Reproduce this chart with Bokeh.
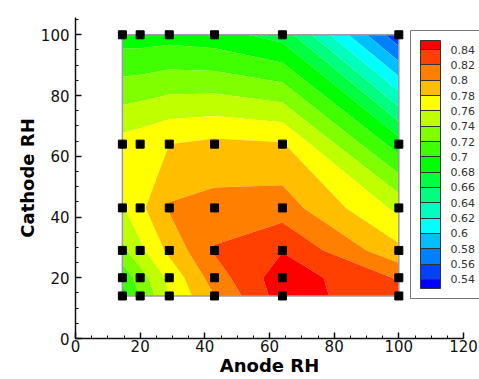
import numpy as np
from bokeh.plotting import figure
from bokeh.models import (Range1d, SingleIntervalTicker, ColorBar, LinearColorMapper,
                          FixedTicker, CustomJSTickFormatter)
from bokeh.embed import file_html
from bokeh.resources import INLINE

# ---- data ----
anode_rh = [14.5, 20, 29, 43, 64, 100]
cathode_rh = [14, 20, 29, 43, 64, 100]

# rows: cathode RH (ascending), columns: anode RH (ascending)
z_c14 = [0.690, 0.720, 0.760, 0.800, 0.850, 0.825]
z_c20 = [0.705, 0.730, 0.765, 0.810, 0.852, 0.818]
z_c29 = [0.735, 0.755, 0.785, 0.822, 0.839, 0.785]
z_c43 = [0.758, 0.775, 0.802, 0.807, 0.810, 0.755]
z_c64 = [0.768, 0.772, 0.780, 0.785, 0.782, 0.690]
z_c100 = [0.690, 0.690, 0.692, 0.688, 0.672, 0.545]

contour_levels = [0.54, 0.56, 0.58, 0.60, 0.62, 0.64, 0.66, 0.68,
                  0.70, 0.72, 0.74, 0.76, 0.78, 0.80, 0.82, 0.84]

band_colors = ["#0000ff", "#0040ff", "#0080ff", "#00bfff", "#00ffff", "#00ffbf",
               "#00ff80", "#00ff40", "#00ff00", "#40ff00", "#80ff00", "#bfff00",
               "#ffff00", "#ffbf00", "#ff8000", "#ff4000", "#ff0000"]

FONT = "DejaVu Sans"

Z = np.array([z_c14, z_c20, z_c29, z_c43, z_c64, z_c100])
xa = np.array(anode_rh, dtype=float)
ya = np.array(cathode_rh, dtype=float)

p = figure(width=479, height=379, x_range=Range1d(0, 120), y_range=Range1d(0, 105.7),
           output_backend="svg", toolbar_location=None,
           min_border_left=75, min_border_right=16, min_border_top=17, min_border_bottom=41)
p.outline_line_color = None
p.xgrid.visible = False
p.ygrid.visible = False
p.background_fill_color = "white"
p.border_fill_color = "white"

fill_levels = [0.50] + contour_levels + [0.90]
p.contour(x=xa, y=ya, z=Z, levels=fill_levels, fill_color=band_colors)

# zone boundary
x0, x1 = xa.min(), xa.max()
y0, y1 = ya.min(), ya.max()
p.line([x0, x1, x1, x0, x0], [y0, y0, y1, y1, y0], line_color="#9a9aa8", line_width=1.5)

# data points
XX, YY = np.meshgrid(xa, ya)
p.scatter(XX.ravel(), YY.ravel(), marker="square", size=8, color="black")

for ax in (p.xaxis[0], p.yaxis[0]):
    ax.ticker = SingleIntervalTicker(interval=20, num_minor_ticks=4)
    ax.major_tick_in = 6
    ax.major_tick_out = 0
    ax.minor_tick_in = 3
    ax.minor_tick_out = 0
    ax.axis_line_width = 1.5
    ax.major_tick_line_width = 1.5
    ax.minor_tick_line_width = 1
    ax.axis_line_color = "#111111"
    ax.major_tick_line_color = "#111111"
    ax.minor_tick_line_color = "#111111"
    ax.major_label_text_font = FONT
    ax.major_label_text_font_size = "15px"
    ax.major_label_text_color = "#111111"
    ax.axis_label_text_font = FONT
    ax.axis_label_text_font_size = "18px"
    ax.axis_label_text_font_style = "bold"
    ax.axis_label_text_color = "black"

p.xaxis.axis_label = "Anode RH"
p.yaxis.axis_label = "Cathode RH"
p.xaxis.major_label_standoff = 1
p.xaxis.axis_label_standoff = 0
p.yaxis.major_label_standoff = 6
p.yaxis.axis_label_standoff = 0

# legend (colour bar)
lo, hi, step = 0.528, 0.852, 0.004
n = int(round((hi - lo) / step))
pal = []
for i in range(n):
    v = lo + step * (i + 0.5)
    k = sum(1 for L in contour_levels if L < v)
    pal.append(band_colors[k])
mapper = LinearColorMapper(palette=pal, low=lo, high=hi)

cb = ColorBar(color_mapper=mapper, orientation="vertical", width=20, height=248,
              location=(335, 40), padding=10,
              ticker=FixedTicker(ticks=contour_levels),
              formatter=CustomJSTickFormatter(code="return String(Math.round(tick*100)/100);"),
              major_tick_in=20, major_tick_out=0, major_tick_line_color="#333333",
              major_tick_line_width=1, minor_tick_line_color=None,
              bar_line_color="#333333", bar_line_width=1,
              border_line_color="#777777", border_line_width=1,
              background_fill_color="white", background_fill_alpha=1,
              label_standoff=10,
              major_label_text_font=FONT, major_label_text_font_size="11px",
              major_label_text_color="#333333")
p.add_layout(cb)

open("out.html", "w").write(file_html(p, INLINE))
